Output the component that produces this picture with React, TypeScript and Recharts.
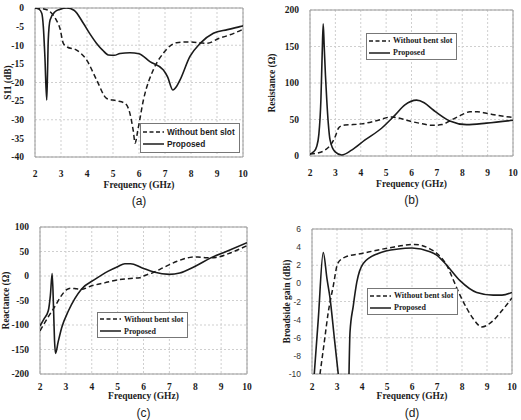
import React from 'react';
import { LineChart, Line, XAxis, YAxis, CartesianGrid, ReferenceArea } from 'recharts';

const freqTicks = [2, 3, 4, 5, 6, 7, 8, 9, 10];
const seriesNames = ['Without bent slot', 'Proposed'];

// (a) S11
const s11Ticks = [-40, -35, -30, -25, -20, -15, -10, -5, 0];
const s11BaseF = [2, 2.3, 2.5, 2.64, 2.8, 2.96, 3.09, 3.22, 3.6, 3.99, 4.37, 4.76, 5.14, 5.46, 5.65, 5.78, 5.85, 5.95, 6.17, 6.55, 6.93, 7.45, 7.96, 8.6, 9.1, 9.5, 10];
const s11BaseV = [0, -0.2, -0.6, -1.4, -3, -5.5, -9.5, -10.4, -11.3, -14, -19.3, -24.3, -24.9, -25.6, -28.3, -33, -36.3, -33, -24.7, -16.6, -12.2, -9.3, -9.1, -9.5, -8.1, -7.2, -5.7];
const s11PropF = [2, 2.15, 2.26, 2.32, 2.38, 2.45, 2.48, 2.51, 2.58, 2.77, 2.95, 3.22, 3.5, 3.86, 4.1, 4.37, 4.6, 4.82, 5.05, 5.27, 5.65, 6.0, 6.42, 6.93, 7.1, 7.3, 7.45, 7.58, 7.96, 8.35, 8.86, 9.4, 9.88, 10];
const s11PropV = [0, -0.3, -1.4, -5, -13, -24.7, -18, -8.6, -3.2, -1, -0.4, 0, -0.6, -4.1, -6.8, -9.5, -11.3, -12.6, -12.7, -12.2, -12, -12.3, -14.4, -16.6, -18.5, -22, -21, -19.3, -13, -9.5, -6.8, -5.8, -5, -4.8];

// (b) resistance
const resTicks = [0, 50, 100, 150, 200];
const resBaseF = [2, 2.3, 2.59, 2.85, 3.0, 3.12, 3.25, 3.38, 3.7, 4.03, 4.69, 5.21, 5.5, 5.8, 6.3, 6.86, 7.2, 7.5, 7.9, 8.3, 8.6, 8.95, 9.5, 10];
const resBaseV = [2.7, 4, 8, 17, 27, 38, 41.5, 42.5, 43, 44, 49, 53.5, 52, 49, 45, 42, 43, 48, 55, 60.5, 60.5, 58.5, 55, 53];
const resPropF = [2, 2.15, 2.26, 2.35, 2.43, 2.48, 2.52, 2.56, 2.61, 2.66, 2.72, 2.79, 2.98, 3.25, 3.64, 4.17, 4.82, 5.35, 5.74, 6.2, 6.5, 6.86, 7.51, 8.17, 8.95, 10];
const resPropV = [2.7, 6, 12.7, 30, 77, 140, 181, 150, 110, 77, 45, 22, 6, 1.4, 8, 22, 38, 56, 70, 76.5, 73, 63, 48, 43, 45, 49];

// (c) reactance
const reaTicks = [-200, -150, -100, -50, 0, 50, 100];
const reaBaseF = [2, 2.3, 2.6, 2.8, 3.03, 3.2, 3.4, 3.6, 4.0, 4.5, 5.0, 5.5, 5.86, 6.05, 6.37, 6.8, 7.3, 7.8, 8.1, 8.44, 8.8, 9.4, 10];
const reaBaseV = [-112, -85, -60, -42, -28, -25, -26, -27, -20, -14, -8, -5, -3.4, 1, 7, 18, 30, 38, 39, 37, 38, 48, 62];
const reaPropF = [2, 2.15, 2.32, 2.4, 2.47, 2.52, 2.56, 2.6, 2.7, 2.84, 3.1, 3.6, 4.12, 4.64, 5.0, 5.28, 5.5, 5.93, 6.4, 7.0, 7.4, 8.0, 8.6, 9.2, 10];
const reaPropV = [-102, -88, -71, -40, 5, -60, -130, -158, -135, -105, -71, -27, -7, 10, 19, 25, 25, 17, 8, 3.4, 6, 20, 37, 50, 68];

// (d) broadside gain
const gainTicks = [-10, -8, -6, -4, -2, 0, 2, 4, 6];
const gainBaseF = [2.32, 2.5, 2.65, 2.85, 3.03, 3.32, 3.99, 5.05, 6.1, 6.72, 7.0, 7.39, 7.65, 7.92, 8.2, 8.45, 8.79, 9.25, 9.6, 10];
const gainBaseV = [-10, -6.3, -3.2, -0.3, 2.2, 2.9, 3.3, 3.9, 4.3, 3.8, 3.3, 2.0, 0.4, -1.3, -2.8, -3.9, -4.8, -4.1, -3, -1.6];
const gainPropF = [2.09, 2.25, 2.45, 2.6, 2.72, 2.9, 3.05, 3.25, 3.48, 3.52, 3.65, 3.79, 4.05, 4.65, 5.45, 6.0, 6.72, 7.0, 7.39, 7.92, 8.59, 9.25, 9.6, 10];
const gainPropV = [-10, -4, 3.4, 0.5, -1.6, -6.2, -10, null, -10, -5.4, -2.5, 0.1, 2.2, 3.3, 3.8, 3.9, 3.5, 3.1, 2.0, 0.3, -1.0, -1.3, -1.3, -1.0];

const zip = (f: number[], v: (number | null)[]) => f.map((x, i) => ({ f: x, v: v[i] }));

const ink = '#1b1b1b';
const serif = 'Liberation Serif, DejaVu Serif, serif';
const sans = 'Liberation Sans, Arial, sans-serif';

function LegendBox({ x, y, w, h, font }: any) {
  return (
    <div
      style={{
        position: 'absolute', left: x, top: y, width: w, height: h, boxSizing: 'border-box',
        border: '1px solid #777', background: '#fff', display: 'flex', flexDirection: 'column',
        justifyContent: 'center', paddingLeft: 2, gap: 1, whiteSpace: 'nowrap', overflow: 'hidden',
        fontFamily: font, fontWeight: 'bold', fontSize: font === sans ? 8.3 : 8, color: ink
      }}
    >
      {seriesNames.map((name, i) => (
        <div key={name} style={{ display: 'flex', alignItems: 'center', height: 11 }}>
          <svg width={21} height={6} style={{ marginRight: 3, flexShrink: 0 }}>
            <line x1={0} y1={3} x2={21} y2={3} stroke={ink} strokeWidth={1.5} strokeDasharray={i === 0 ? '4 2.5' : undefined} />
          </svg>
          <span>{name}</span>
        </div>
      ))}
    </div>
  );
}

function Panel(p: any) {
  const { left, top, width, height, plotLeft, plotRight, plotTop, plotBottom, xTickMargin, xLabelOffset, yDomain, yTicks, yLabel, yLabelX, yTickFont, base, prop, legend, legendFont, caption, captionTop } = p;
  const xh = height - plotBottom;
  const tickStyle = { fontFamily: serif, fontWeight: 'bold', fontSize: 9.5, fill: ink };
  const titleStyle = { fontFamily: serif, fontWeight: 'bold', fontSize: 9.5, fill: ink };
  return (
    <div style={{ position: 'absolute', left, top, width, height: 210 }}>
      <LineChart width={width} height={height} margin={{ top: plotTop, right: width - plotRight, left: 0, bottom: 0 }}>
        <CartesianGrid stroke="#cfcfcf" strokeDasharray="2 2" verticalValues={freqTicks} />
        <XAxis
          type="number" dataKey="f" domain={[2, 10]} ticks={freqTicks} allowDataOverflow
          height={xh} axisLine={false} tickLine={false} tickMargin={xTickMargin} tick={tickStyle}
          label={{ value: 'Frequency (GHz)', position: 'insideBottom', offset: xLabelOffset, style: titleStyle, fontFamily: serif, fontWeight: 'bold' }}
        />
        <YAxis
          type="number" domain={yDomain} ticks={yTicks} allowDataOverflow width={plotLeft}
          axisLine={false} tickLine={false} tickMargin={5} tick={yTickFont || tickStyle}
          label={{ value: yLabel, angle: -90, position: 'insideLeft', offset: yLabelX, textAnchor: 'middle', style: { ...titleStyle, textAnchor: 'middle' }, fontFamily: serif, fontWeight: 'bold' }}
        />
        <ReferenceArea x1={2} x2={10} y1={yDomain[0]} y2={yDomain[1]} fill="none" stroke="#9a9a9a" strokeWidth={1} ifOverflow="visible" />
        <Line data={zip(base[0], base[1])} dataKey="v" name={seriesNames[0]} type="monotone" stroke={ink} strokeWidth={1.5} strokeDasharray="5 3" dot={false} isAnimationActive={false} />
        <Line data={zip(prop[0], prop[1])} dataKey="v" name={seriesNames[1]} type="monotone" stroke={ink} strokeWidth={1.6} dot={false} connectNulls={false} isAnimationActive={false} />
      </LineChart>
      <LegendBox x={legend[0]} y={legend[1]} w={legend[2]} h={legend[3]} font={legendFont} />
      <div style={{ position: 'absolute', left: 0, width: plotLeft + plotRight, top: captionTop, textAlign: 'center', fontFamily: sans, fontSize: 12, lineHeight: '12px', color: ink }}>{caption}</div>
    </div>
  );
}

export default function App() {
  return (
    <div style={{ position: 'absolute', left: 0, top: 0, width: 521, height: 420, overflow: 'hidden', background: '#fff' }}>
      <Panel left={0} top={0} width={260} height={190} plotLeft={35} plotRight={243} plotTop={8} plotBottom={157} xTickMargin={7} xLabelOffset={2}
        yDomain={[-40, 0]} yTicks={s11Ticks} yLabel="S11 (dB)" yLabelX={8}
        base={[s11BaseF, s11BaseV]} prop={[s11PropF, s11PropV]} legend={[140, 123, 100, 30]} legendFont={sans}
        caption="(a)" captionTop={195} />
      <Panel left={260} top={0} width={261} height={190} plotLeft={50} plotRight={253} plotTop={10} plotBottom={156} xTickMargin={7} xLabelOffset={3}
        yDomain={[0, 200]} yTicks={resTicks} yLabel="Resistance (Ω)" yLabelX={12}
        base={[resBaseF, resBaseV]} prop={[resPropF, resPropV]} legend={[106, 33, 91, 27]} legendFont={serif}
        caption="(b)" captionTop={194} />
      <Panel left={0} top={210} width={260} height={200} plotLeft={40} plotRight={247} plotTop={17} plotBottom={164} xTickMargin={3} xLabelOffset={11}
        yDomain={[-200, 100]} yTicks={reaTicks} yLabel="Reactance (Ω)" yLabelX={6}
        base={[reaBaseF, reaBaseV]} prop={[reaPropF, reaPropV]} legend={[97, 102, 91, 26]} legendFont={serif}
        caption="(c)" captionTop={197} />
      <Panel left={260} top={210} width={261} height={200} plotLeft={52} plotRight={252} plotTop={19} plotBottom={164} xTickMargin={3} xLabelOffset={11}
        yDomain={[-10, 6]} yTicks={gainTicks} yLabel="Broadside gain (dBi)" yLabelX={27}
        yTickFont={{ fontFamily: sans, fontSize: 8.5, fill: '#333' }}
        base={[gainBaseF, gainBaseV]} prop={[gainPropF, gainPropV]} legend={[107, 78, 91, 27]} legendFont={serif}
        caption="(d)" captionTop={197} />
    </div>
  );
}
